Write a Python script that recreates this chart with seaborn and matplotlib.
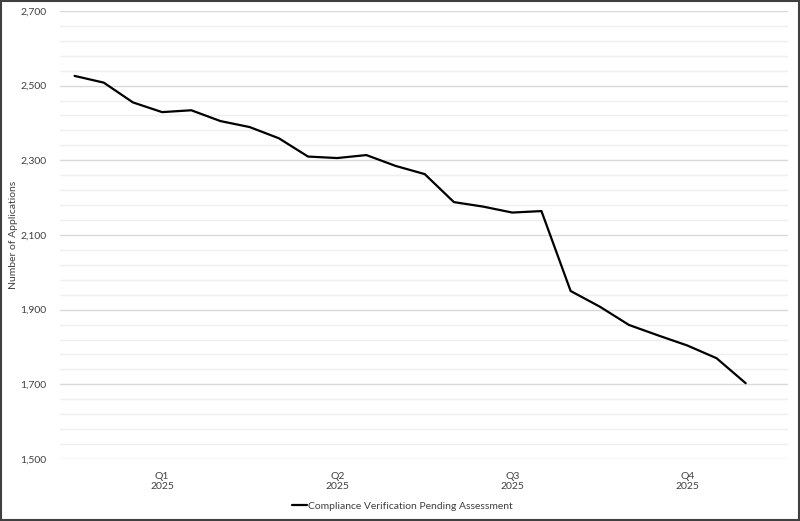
import numpy as np
import pandas as pd
import seaborn as sns
import matplotlib.pyplot as plt
import matplotlib.ticker as ticker
from matplotlib.patches import Rectangle

# data (24 periods, 6 per quarter)
quarters = ['Q1\n2025', 'Q2\n2025', 'Q3\n2025', 'Q4\n2025']
pending = [2526, 2508, 2455, 2429, 2434, 2405, 2389, 2359,
           2310, 2306, 2314, 2285, 2263, 2188, 2176, 2160,
           2164, 1950, 1908, 1859, 1831, 1804, 1770, 1703]
series_name = 'Compliance Verification Pending Assessment'

df = pd.DataFrame({'period': np.arange(len(pending)), 'apps': pending})

sns.set_theme(style='white')
plt.rcParams['font.family'] = ['Lato', 'DejaVu Sans']

fig = plt.figure(figsize=(8, 5.21), dpi=100)
ax = fig.add_axes([0.075, 0.119, 0.91, 0.86])

sns.lineplot(data=df, x='period', y='apps', color='black', linewidth=1.6,
             label=series_name, ax=ax, legend=False)

ax.set_ylim(1500, 2700)
ax.set_xlim(-0.5, 24.45)
ax.yaxis.set_major_locator(ticker.FixedLocator(np.arange(1500, 2701, 200)))
ax.yaxis.set_minor_locator(ticker.FixedLocator(np.arange(1500, 2701, 40)))
ax.yaxis.set_major_formatter(ticker.StrMethodFormatter('{x:,.0f}'))
ax.grid(which='major', axis='y', color='#d9d9d9', linewidth=1)
ax.grid(which='minor', axis='y', color='#efefef', linewidth=1)
ax.set_axisbelow(True)

# quarter labels sit at the 4th period of each quarter
ax.set_xticks([3, 9, 15, 21])
ax.set_xticklabels(quarters)
ax.tick_params(axis='both', which='both', length=0, labelsize=7.5, colors='#404040')
ax.tick_params(axis='x', pad=9)
ax.tick_params(axis='y', pad=10)

ax.set_xlabel('')
ax.set_ylabel('Number of Applications', fontsize=7.5, color='#404040')
ax.yaxis.set_label_coords(-0.058, 0.5)
for s in ax.spines.values():
    s.set_visible(False)

handles, labels = ax.get_legend_handles_labels()
fig.legend(handles, labels, loc='center', bbox_to_anchor=(0.503, 0.029), frameon=False,
           fontsize=7.5, handlelength=1.5, handletextpad=0.1, labelcolor='#404040')

# outer chart frame
fig.patches.append(Rectangle((0.001, 0.001), 0.998, 0.997, transform=fig.transFigure,
                             fill=False, edgecolor='#404040', linewidth=1.5))

plt.savefig('out.png', dpi=100)
